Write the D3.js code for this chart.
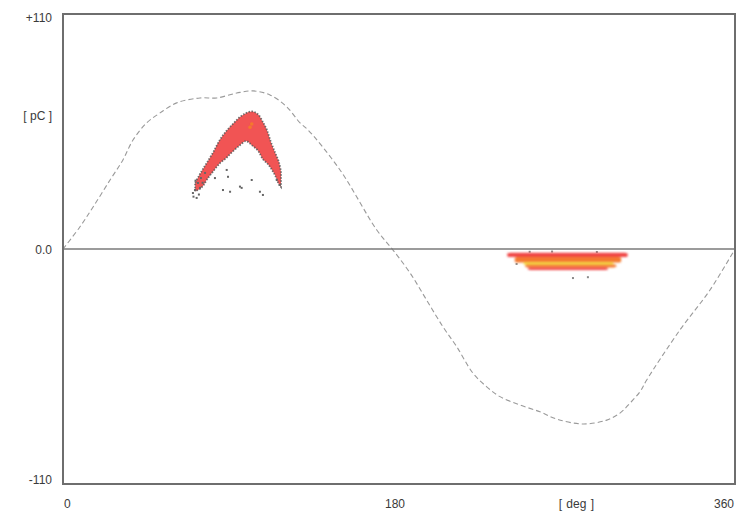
<!DOCTYPE html>
<html><head><meta charset="utf-8">
<script src="https://cdn.jsdelivr.net/npm/d3@7"></script>
<style>body{margin:0;background:#fff}svg{display:block}</style>
</head><body>
<svg id="c" width="737" height="513"></svg>
<script>
// ---- data ----
const phaseDomain = [0, 360];
const chargeDomain = [-110, 110];
const xTickValues = [0, 180, 360];
const xTickLabels = ["0", "180", "360"];
const yTickValues = [110, 0, -110];
const yTickLabels = ["+110", "0.0", "-110"];
const xUnit = "[ deg ]";
const yUnit = "[ pC ]";

// reference (test voltage) curve
const refPhase  = [0, 9.1, 16.2, 25.2, 32.1, 37.5, 44.8, 52.0, 60.9, 73.4, 82.3, 93.1, 101.8, 110.9, 119.8, 127.0, 131.3, 148.4, 168.1, 176.8, 185.9, 194.8, 203.6, 210.9, 219.6, 227.0, 234.1, 244.8, 255.5, 264.5, 278.6, 291.3, 298.4, 303.8, 309.1, 312.7, 330.5, 346.6, 360];
const refCharge = [0, 10.4, 19.8, 32.3, 41.7, 51.0, 59.0, 63.7, 68.4, 70.7, 70.7, 73.0, 74.0, 72.1, 66.6, 59.0, 55.7, 37.0, 8.9, -0.5, -11.2, -23.9, -36.5, -45.7, -58.1, -64.5, -69.1, -73.0, -76.2, -79.6, -81.9, -80.1, -76.8, -72.1, -66.8, -61.3, -37.9, -19.2, 0];

// positive half-cycle cluster (envelope per phase)
const posPhase  = [70.8, 73.0, 75.0, 77.1, 80.4, 84.1, 87.3, 91.1, 94.8, 98.0, 101.3, 104.5, 107.1, 109.3, 111.4, 113.6, 115.7, 116.8];
const posTop    = [31.0, 34.5, 37.5, 40.4, 45.2, 51.2, 55.0, 58.6, 61.8, 63.6, 64.4, 63.0, 59.4, 55.6, 50.0, 45.2, 40.6, 36.0];
const posBottom = [27.0, 28.0, 29.5, 32.5, 36.3, 40.2, 42.5, 45.8, 48.6, 50.5, 48.5, 46.0, 42.0, 40.2, 37.8, 34.5, 30.2, 29.0];

// sparse pulses (phase, charge)
const dotPhase  = [71.6, 85.7, 88.4, 95.7, 101.1, 107.1, 116.2, 81.4, 87.7, 94.8, 105.5, 89.5, 114.5, 70.7, 72.3, 73.9, 76.1, 69.6, 73.4, 71.0, 74.8, 69.9, 72.8, 273.2, 281.2, 243.0, 250.0, 262.0, 286.0];
const dotCharge = [23.9, 27.6, 33.8, 28.6, 32.3, 25.3, 30.0, 33.2, 37.0, 29.2, 26.8, 26.8, 32.3, 27.6, 30.9, 33.2, 35.6, 26.2, 28.6, 32.0, 31.0, 24.5, 25.5, -13.6, -13.2, -7.0, -1.3, -1.2, -1.4];

// hot spot (highest density)
const hotPhase = [101.1, 100.2];
const hotCharge = [58.5, 57.0];

// negative half-cycle cluster bands (density level 1..4)
const negStart  = [238.0, 242.0, 246.5, 247.5, 249.0];
const negEnd    = [302.5, 299.0, 295.0, 296.5, 292.0];
const negTop    = [-1.8, -3.8, -6.3, -7.3, -8.7];
const negBottom = [-3.8, -6.3, -7.3, -8.7, -9.8];
const negLevel  = [2, 3, 4, 3, 2];

// ---- drawing ----
const m = {left: 63, right: 735, top: 14, bottom: 484};
const svg = d3.select("#c");
const x = d3.scaleLinear().domain(phaseDomain).range([m.left, m.right]);
const y = d3.scaleLinear().domain(chargeDomain).range([m.bottom, m.top]);
const levelColor = d3.scaleOrdinal().domain([1, 2, 3, 4]).range(["#707070", "#f04444", "#f4782e", "#f0dc20"]);

const defs = svg.append("defs");
defs.append("filter").attr("id", "soft").append("feGaussianBlur").attr("stdDeviation", 0.7);
defs.append("filter").attr("id", "soft2").append("feGaussianBlur").attr("stdDeviation", 1.0);

// reference curve
const refData = refPhase.map((p, i) => [p, refCharge[i]]);
svg.append("path")
  .datum(refData)
  .attr("d", d3.line().x(d => x(d[0])).y(d => y(d[1])).curve(d3.curveCatmullRom))
  .attr("fill", "none").attr("stroke", "#9a9a9a").attr("stroke-width", 1.1)
  .attr("stroke-dasharray", "5,3");

// positive cluster
const posData = posPhase.map((p, i) => ({p, t: posTop[i], b: posBottom[i]}));
const area = d3.area().x(d => x(d.p)).y0(d => y(d.b)).y1(d => y(d.t)).curve(d3.curveCatmullRom);
const gPos = svg.append("g").attr("filter", "url(#soft)");
gPos.append("path")
  .datum(posData)
  .attr("d", area)
  .attr("fill", levelColor(2)).attr("fill-opacity", 0.92);
gPos.append("path")
  .datum(posData)
  .attr("d", area)
  .attr("fill", "none")
  .attr("stroke", "#5a5a5a").attr("stroke-opacity", 0.85).attr("stroke-width", 1.8).attr("stroke-dasharray", "1.5,1.5");
gPos.selectAll("circle.hot")
  .data(hotPhase.map((p, i) => [p, hotCharge[i]]))
  .join("circle").attr("class", "hot")
  .attr("cx", d => x(d[0])).attr("cy", d => y(d[1])).attr("r", 1.8)
  .attr("fill", levelColor(3));

// sparse dots
svg.append("g").attr("filter", "url(#soft)")
  .selectAll("rect")
  .data(dotPhase.map((p, i) => [p, dotCharge[i]]))
  .join("rect")
  .attr("x", d => x(d[0]) - 1).attr("y", d => y(d[1]) - 1)
  .attr("width", 2).attr("height", 2)
  .attr("fill", d => d[1] < 0 ? "#8a8a8a" : "#666");

// negative cluster
const negData = negStart.map((s, i) => ({s, e: negEnd[i], t: negTop[i], b: negBottom[i], l: negLevel[i]}));
svg.append("g").attr("filter", "url(#soft2)")
  .selectAll("rect")
  .data(negData)
  .join("rect")
  .attr("x", d => x(d.s)).attr("width", d => x(d.e) - x(d.s))
  .attr("y", d => y(d.t)).attr("height", d => y(d.b) - y(d.t))
  .attr("rx", 3).attr("ry", 1.5)
  .attr("fill", d => levelColor(d.l));

// zero line
svg.append("line")
  .attr("x1", m.left).attr("x2", m.right).attr("y1", y(0)).attr("y2", y(0))
  .attr("stroke", "#7a7a7a").attr("stroke-width", 1.6);

// frame
svg.append("rect")
  .attr("x", m.left).attr("y", m.top)
  .attr("width", m.right - m.left).attr("height", m.bottom - m.top)
  .attr("fill", "none").attr("stroke", "#6e6e6e").attr("stroke-width", 2);

// labels
const font = "'Liberation Sans', Arial, sans-serif";
const yLab = svg.append("g").attr("font-family", font).attr("font-size", 12).attr("fill", "#3a3a3a");
yLab.selectAll("text.yt")
  .data(yTickValues)
  .join("text").attr("class", "yt")
  .attr("x", 52).attr("text-anchor", "end")
  .attr("y", (d, i) => y(d) + (i === 0 ? 8 : (i === 2 ? 0 : 5)))
  .text((d, i) => yTickLabels[i]);
yLab.append("text").attr("x", 52).attr("y", 120).attr("text-anchor", "end").text(yUnit);

const xLab = svg.append("g").attr("font-family", font).attr("font-size", 12).attr("fill", "#3a3a3a");
xLab.selectAll("text.xt")
  .data(xTickValues)
  .join("text").attr("class", "xt")
  .attr("x", (d, i) => i === 0 ? x(d) + 1 : (i === 2 ? x(d) - 1 : x(d) - 4))
  .attr("text-anchor", (d, i) => i === 0 ? "start" : (i === 2 ? "end" : "middle"))
  .attr("y", 508)
  .text((d, i) => xTickLabels[i]);
xLab.append("text").attr("x", x(275)).attr("y", 508).attr("text-anchor", "middle").attr("word-spacing", 1).text(xUnit);
</script>
</body></html>
